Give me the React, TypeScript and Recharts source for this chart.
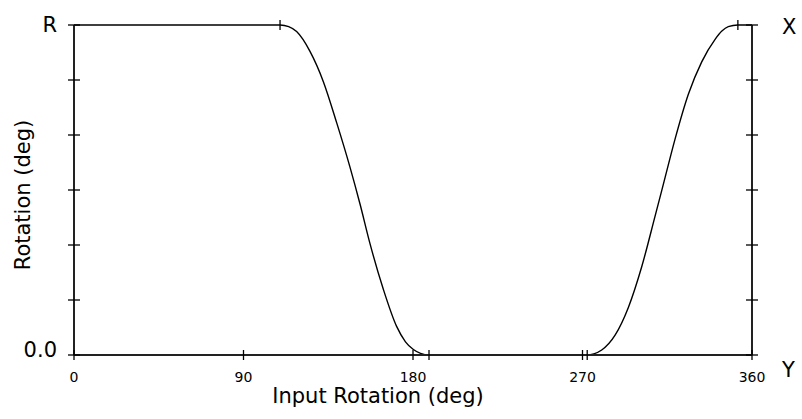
import { LineChart, Line, XAxis, YAxis, Scatter, Label } from 'recharts';

// input rotation (deg) vs output rotation, in tick units (0 = "0.0", 6 = "R")
const inputDeg = [
  0, 109.4, 114, 118.2, 125.3, 132.4, 139.5, 146.5, 151.9, 157.2, 164.2, 171.3, 176, 180.2, 184, 188.5,
  272.5, 276, 280.2, 287.3, 294.3, 301.4, 308.5, 313.8, 319.1, 326.2, 333.3, 340.4, 344, 347.4, 352.5, 360,
];
const rotation = [
  6, 6, 5.97, 5.88, 5.52, 4.97, 4.22, 3.42, 2.74, 2.02, 1.2, 0.52, 0.24, 0.1, 0.03, 0,
  0, 0.02, 0.09, 0.36, 0.86, 1.6, 2.52, 3.22, 3.92, 4.74, 5.33, 5.74, 5.89, 5.97, 6, 6,
];

const keyDeg = [109.4, 188.5, 272.5, 352.5];
const keyRot = [6, 0, 0, 6];

const xTicks = [0, 90, 180, 270, 360];
const yTicks = [0, 1, 2, 3, 4, 5, 6];
const leftLabels: Record<number, string> = { 0: '0.0', 6: 'R' };
const rightLabels: Record<number, string> = { 0: 'Y', 6: 'X' };

const curve = inputDeg.map((x, i) => ({ x, y: rotation[i] }));
const keys = keyDeg.map((x, i) => ({ x, y: keyRot[i] }));

const FONT = '"DejaVu Sans", sans-serif';

const XTick = ({ x, y, payload }: any) => (
  <g>
    <line x1={x} x2={x} y1={y - 5} y2={y + 5} stroke="#000" strokeWidth={1.3} />
    <text x={x} y={y + 27} textAnchor="middle" fontSize={14} fontFamily={FONT} fill="#000">
      {payload.value}
    </text>
  </g>
);

const LeftTick = ({ x, y, payload }: any) => (
  <g>
    <line x1={x - 6} x2={x + 6} y1={y} y2={y} stroke="#000" strokeWidth={1.3} />
    <text
      x={x - 17}
      y={y + (payload.value === 0 ? 2 : 7)}
      textAnchor="end"
      fontSize={21}
      fontFamily={FONT}
      fill="#000"
    >
      {leftLabels[payload.value] ?? ''}
    </text>
  </g>
);

const RightTick = ({ x, y, payload }: any) => (
  <g>
    <line x1={x - 6} x2={x + 6} y1={y} y2={y} stroke="#000" strokeWidth={1.3} />
    <text
      x={x + 30}
      y={y + (payload.value === 0 ? 22 : 9)}
      textAnchor="start"
      fontSize={21}
      fontFamily={FONT}
      fill="#000"
    >
      {rightLabels[payload.value] ?? ''}
    </text>
  </g>
);

const KeyMark = ({ cx, cy }: any) => (
  <line x1={cx} x2={cx} y1={cy - 5} y2={cy + 5} stroke="#000" strokeWidth={1.3} />
);

export default function App() {
  return (
    <div style={{ position: 'absolute', left: 0, top: 0, background: '#fff' }}>
      <LineChart
        width={802}
        height={419}
        data={curve}
        margin={{ top: 25, right: 49, bottom: 63, left: 73 }}
      >
        <XAxis
          dataKey="x"
          type="number"
          domain={[0, 360]}
          ticks={xTicks}
          height={1}
          tickSize={0}
          tickMargin={0}
          tickLine={false}
          stroke="#222"
          strokeWidth={2}
          tick={<XTick />}
          interval={0}
        >
          <Label
            content={() => (
              <text x={378} y={403} textAnchor="middle" fontSize={21} fontFamily={FONT} fill="#000">
                Input Rotation (deg)
              </text>
            )}
          />
        </XAxis>
        <YAxis
          yAxisId="left"
          type="number"
          domain={[0, 6]}
          ticks={yTicks}
          width={1}
          tickSize={0}
          tickMargin={0}
          tickLine={false}
          stroke="#222"
          strokeWidth={2}
          tick={<LeftTick />}
          interval={0}
        >
          <Label
            content={() => (
              <text
                x={0}
                y={0}
                transform="translate(30,195) rotate(-90)"
                textAnchor="middle"
                fontSize={21}
                fontFamily={FONT}
                fill="#000"
              >
                Rotation (deg)
              </text>
            )}
          />
        </YAxis>
        <YAxis
          yAxisId="right"
          orientation="right"
          type="number"
          domain={[0, 6]}
          ticks={yTicks}
          width={1}
          tickSize={0}
          tickMargin={0}
          tickLine={false}
          stroke="#222"
          strokeWidth={2}
          tick={<RightTick />}
          interval={0}
        />
        <Line
          yAxisId="left"
          dataKey="y"
          type="monotone"
          stroke="#000"
          strokeWidth={1.4}
          dot={false}
          isAnimationActive={false}
        />
        <Scatter
          yAxisId="right"
          data={keys}
          dataKey="y"
          shape={<KeyMark />}
          isAnimationActive={false}
        />
      </LineChart>
    </div>
  );
}
